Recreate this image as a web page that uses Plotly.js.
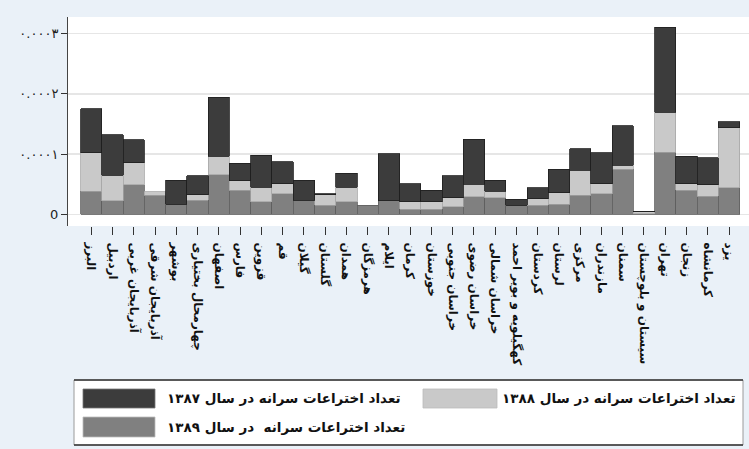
<!DOCTYPE html>
<html>
<head>
<meta charset="utf-8">
<script src="https://cdn.plot.ly/plotly-3.0.1.min.js"></script>
<style>html,body{margin:0;padding:0;background:#eaf1f8;}#chart{width:749px;height:449px;}</style>
</head>
<body>
<div id="chart"></div>
<script>
// Provinces (x categories, left to right)
var provinces = ["البرز","اردبیل","آذربایجان غربی","آذربایجان شرقی","بوشهر","چهارمحال بختیاری","اصفهان","فارس","قزوین","قم","گیلان","گلستان","همدان","هرمزگان","ایلام","کرمان","خوزستان","خراسان جنوبی","خراسان رضوی","خراسان شمالی","کهگیلویه و بویر احمد","کردستان","لرستان","مرکزی","مازندران","سمنان","سیستان و بلوچستان","تهران","زنجان","کرمانشاه","یزد"];

// Per-capita inventions (stack bottom -> top)
var y1389 = [3.83e-5,2.28e-5,4.89e-5,3.17e-5,1.67e-5,2.33e-5,6.56e-5,4.00e-5,2.06e-5,3.39e-5,2.33e-5,1.50e-5,2.06e-5,1.50e-5,2.22e-5,0.83e-5,0.83e-5,1.22e-5,2.89e-5,2.72e-5,1.50e-5,1.50e-5,1.67e-5,3.17e-5,3.44e-5,7.44e-5,0.10e-5,10.28e-5,4.00e-5,3.00e-5,4.44e-5];
var y1388 = [6.38e-5,4.17e-5,3.67e-5,0.61e-5,0,0.94e-5,3.11e-5,1.56e-5,2.44e-5,1.72e-5,0,1.78e-5,2.44e-5,0,0,1.22e-5,1.22e-5,1.56e-5,2.06e-5,1.11e-5,0,1.11e-5,1.94e-5,4.17e-5,1.67e-5,0.67e-5,0.35e-5,6.67e-5,1.11e-5,1.94e-5,9.94e-5];
var y1387 = [7.28e-5,6.72e-5,3.78e-5,0,4.00e-5,3.11e-5,9.72e-5,2.94e-5,5.28e-5,3.61e-5,3.33e-5,0.10e-5,2.28e-5,0,7.83e-5,3.06e-5,1.94e-5,3.61e-5,7.50e-5,1.83e-5,1.00e-5,1.83e-5,3.83e-5,3.56e-5,5.11e-5,6.61e-5,0.10e-5,14.11e-5,4.50e-5,4.44e-5,1.00e-5];

var seriesNames = ["تعداد اختراعات سرانه در سال ۱۳۸۷","تعداد اختراعات سرانه در سال ۱۳۸۸","تعداد اختراعات سرانه  در سال ۱۳۸۹"];

// Y tick labels
var yTickVals = [0, 0.0001, 0.0002, 0.0003];
var yTickText = ["0", "۰.۰۰۰۱", "۰.۰۰۰۲", "۰.۰۰۰۳"];

var cDark = "#3c3c3c", cLight = "#c9c9c9", cMed = "#808080";
var fa = "DejaVu Sans";
function lw(arr){ return arr.map(function(v){ return v > 0 ? 0.8 : 0; }); }

var traces = [
  {type:"bar", name:seriesNames[2], x:provinces, y:y1389, marker:{color:cMed, line:{color:"#5e5e5e", width:lw(y1389)}}},
  {type:"bar", name:seriesNames[1], x:provinces, y:y1388, marker:{color:cLight, line:{color:"#a8a8a8", width:lw(y1388)}}},
  {type:"bar", name:seriesNames[0], x:provinces, y:y1387, marker:{color:cDark, line:{color:"#1e1e1e", width:lw(y1387)}}}
];

// pixel -> paper helpers (plot area: x 68..749, y 17..226)
function px(v){ return (v-68)/681; }
function py(v){ return (226-v)/209; }

var shapes = [
  {type:"rect", xref:"paper", yref:"paper", x0:px(74), x1:px(743), y0:py(380), y1:py(445), fillcolor:"#ffffff", line:{color:"#9a9a9a", width:1}, layer:"below"},
  {type:"line", xref:"paper", yref:"paper", x0:px(74), x1:px(743), y0:py(380), y1:py(380), line:{color:"#333333", width:1.5}},
  {type:"line", xref:"paper", yref:"paper", x0:px(74), x1:px(743), y0:py(445), y1:py(445), line:{color:"#333333", width:1.5}},
  {type:"rect", xref:"paper", yref:"paper", x0:px(83), x1:px(155), y0:py(389), y1:py(408), fillcolor:cDark, line:{color:"#777", width:0.8}},
  {type:"rect", xref:"paper", yref:"paper", x0:px(423), x1:px(497), y0:py(389), y1:py(408), fillcolor:cLight, line:{color:"#bbb", width:0.8}},
  {type:"rect", xref:"paper", yref:"paper", x0:px(83), x1:px(155), y0:py(417), y1:py(437), fillcolor:cMed, line:{color:"#bbb", width:0.8}}
];

var lf = {family:fa, size:13.5, color:"#111", weight:"bold"};
var annotations = [
  {xref:"paper", yref:"paper", x:px(165), y:py(398), xanchor:"left", yanchor:"middle", text:seriesNames[0], showarrow:false, font:lf},
  {xref:"paper", yref:"paper", x:px(500), y:py(398), xanchor:"left", yanchor:"middle", text:seriesNames[1], showarrow:false, font:lf},
  {xref:"paper", yref:"paper", x:px(165), y:py(427), xanchor:"left", yanchor:"middle", text:seriesNames[2], showarrow:false, font:lf}
];

var layout = {
  width:749, height:449,
  margin:{l:68, r:0, t:17, b:223},
  paper_bgcolor:"#eaf1f8", plot_bgcolor:"#ffffff",
  barmode:"stack", bargap:0,
  showlegend:false,
  xaxis:{type:"category", range:[-1.096, 30.94], showline:false, showgrid:false, zeroline:false,
         ticks:"outside", ticklen:8, tickcolor:"#333", tickwidth:1, tickangle:90, ticklabelstandoff:5,
         tickfont:{family:fa, size:12, color:"#111", weight:"bold"}, fixedrange:true},
  yaxis:{range:[-0.0000194, 0.0003275], tickvals:yTickVals, ticktext:yTickText,
         showline:true, linecolor:"#444", linewidth:1, ticks:"outside", ticklen:6, tickcolor:"#333",
         showgrid:true, gridcolor:"#e6e6e6", gridwidth:1.5, zeroline:false,
         tickfont:{family:fa, size:13, color:"#222"}},
  shapes:shapes,
  annotations:annotations
};

Plotly.newPlot("chart", traces, layout, {displayModeBar:false, staticPlot:true});
</script>
</body>
</html>
